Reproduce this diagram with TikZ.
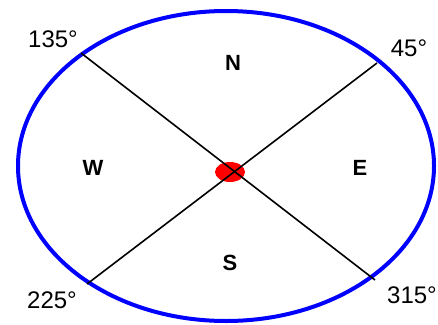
\documentclass[tikz,border=0pt]{standalone}
\usepackage{fontspec}
\setmainfont{Liberation Sans}
\usetikzlibrary{positioning,shapes.geometric}

\begin{document}
\begin{tikzpicture}[x=1pt, y=-1pt,
  rim/.style={draw=blue, line width=4pt},
  spoke/.style={draw=black, line width=1.6pt},
  dir/.style={font=\fontsize{22}{24}\selectfont\bfseries},
  deg/.style={font=\fontsize{24}{26}\selectfont},
  dot/.style={ellipse, fill=red, minimum width=30pt, minimum height=20pt, inner sep=0pt}
]
\useasboundingbox (0,0) rectangle (438,324);
\draw[rim] (226,166) ellipse [x radius=208pt, y radius=155pt];
\node[dot] (ctr) at (230,172) {};
\coordinate (ne) at (377,63); \coordinate (nw) at (81,53);
\coordinate (sw) at (87,284); \coordinate (se) at (375,280);
\draw[spoke] (nw) -- (se); \draw[spoke] (ne) -- (sw);
\node[dir] (n) at (233,63) {N};
\node[dir] (w) at (93,168) {W};
\node[dir] (e) at (360,168) {E};
\node[dir] (s) at (230,263) {S};
\node[deg] (l135) at (53,39) {135°};
\node[deg] (l45) at (409,48) {45°};
\node[deg] (l225) at (52,300) {225°};
\node[deg] (l315) at (412,295) {315°};
\end{tikzpicture}
\end{document}
